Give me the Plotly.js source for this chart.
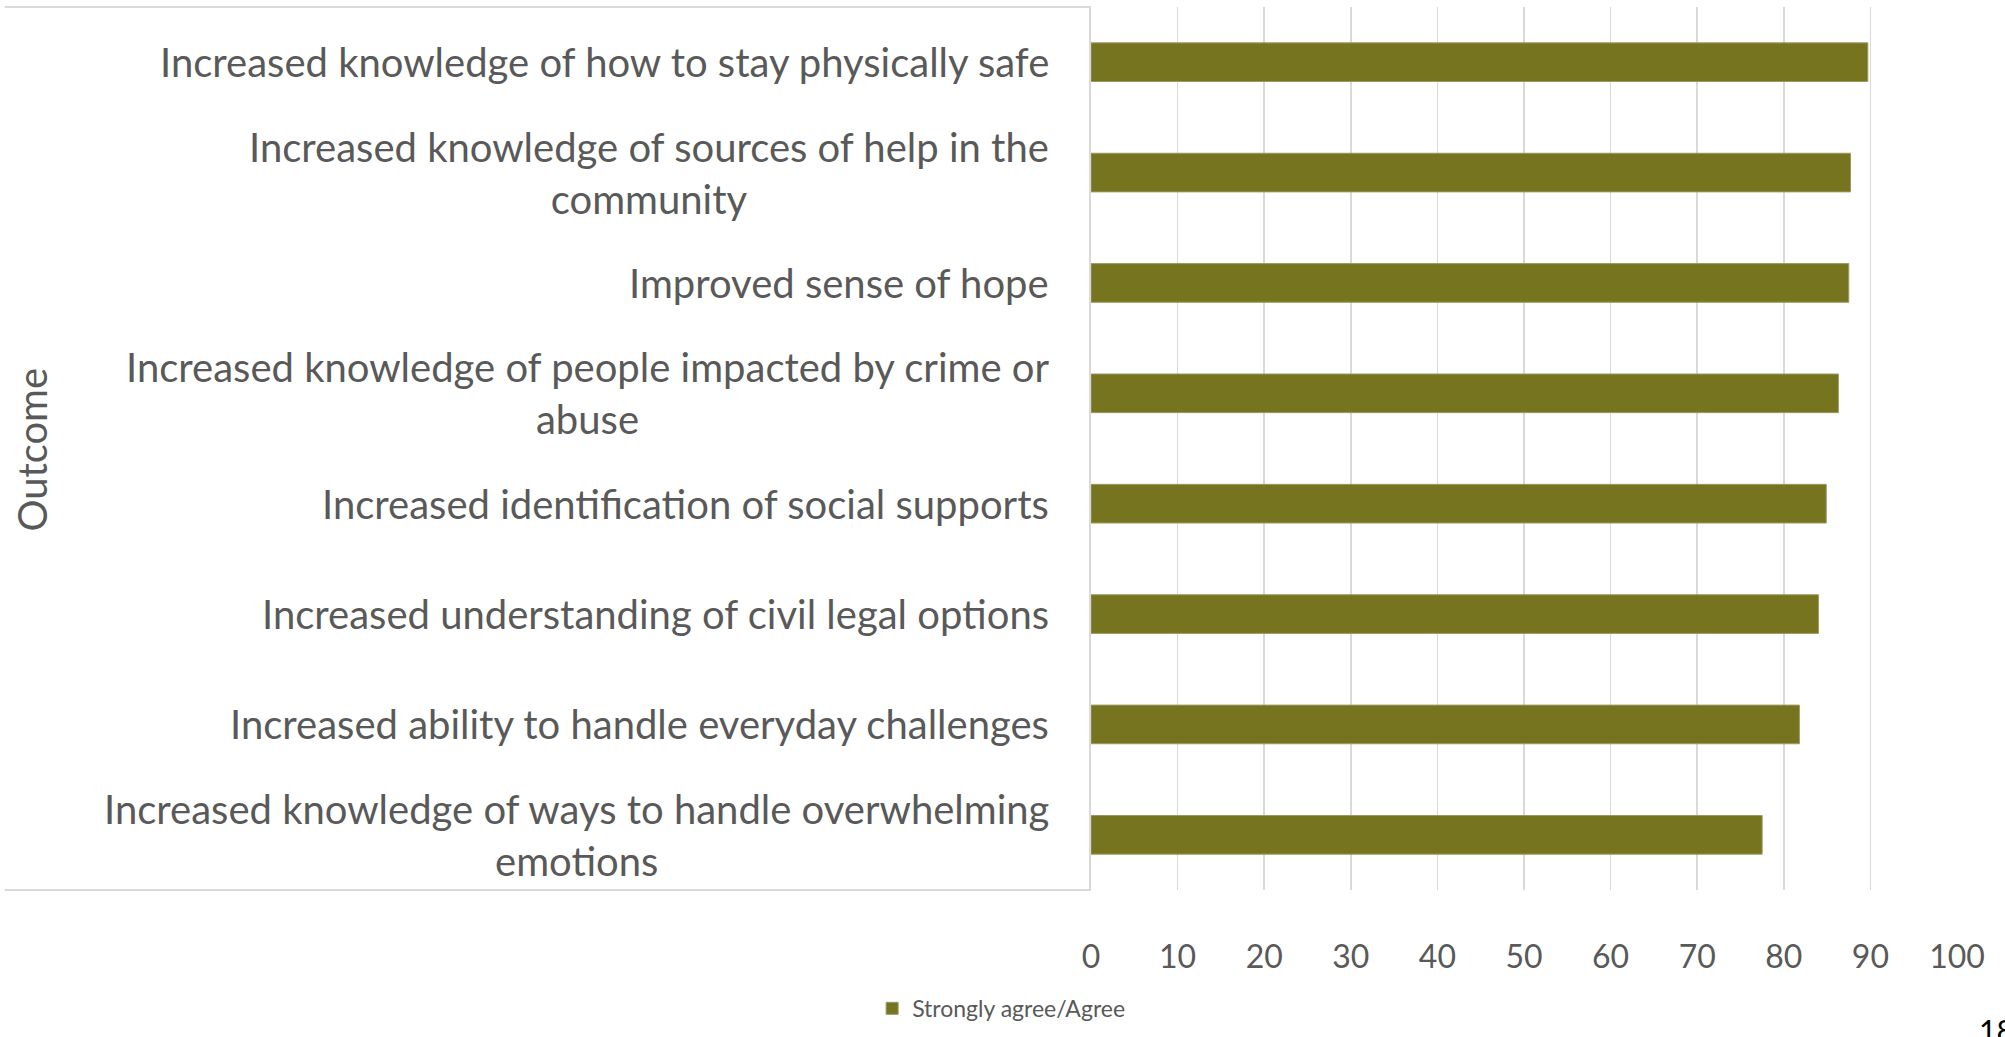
<!DOCTYPE html>
<html>
<head>
<meta charset="utf-8">
<script src="https://cdn.plot.ly/plotly-3.0.1.min.js"></script>
<style>
html,body{margin:0;padding:0;background:#fff;}
#chart{width:2005px;height:1037px;}
</style>
</head>
<body>
<div id="chart"></div>
<script>
// Categories, top to bottom
const categories = [
  "Increased knowledge of how to stay physically safe",
  "Increased knowledge of sources of help in the<br>community",
  "Improved sense of hope",
  "Increased knowledge of people impacted by crime or<br>abuse",
  "Increased identification of social supports",
  "Increased understanding of civil legal options",
  "Increased ability to handle everyday challenges",
  "Increased knowledge of ways to handle overwhelming<br>emotions"
];
const categoryKeys = ["c1","c2","c3","c4","c5","c6","c7","c8"];
const agreeValues = [89.7, 87.7, 87.5, 86.3, 84.9, 84.0, 81.8, 77.5];
const seriesName = "Strongly agree/Agree";
const xTickValues = [0,10,20,30,40,50,60,70,80,90,100];
const yAxisTitle = "Outcome";
const pageNumber = "18";

const W = 2005, H = 1037;
const mL = 1091, mR = 47.5, mT = 7, mB = 135;
const plotW = W - mL - mR;
const plotH = H - mT - mB;
const px2paperX = p => (p - mL) / plotW;
const px2paperY = p => (H - mB - p) / plotH;

const FONT = "Lato, 'Open Sans', sans-serif";
const GREY = "#595959";
const OLIVE = "#76741e";

const trace = {
  type: "bar",
  orientation: "h",
  x: agreeValues,
  y: categoryKeys,
  name: seriesName,
  width: 0.35,
  marker: {color: OLIVE, line: {color: "#9a9860", width: 1}},
  hoverinfo: "x+y"
};

const annotations = categories.map((c, i) => ({
  text: c,
  xref: "paper", x: 0, xshift: -40, xanchor: "right",
  yref: "y", y: categoryKeys[i], yanchor: "middle",
  align: "center",
  showarrow: false,
  font: {family: FONT, size: 40, color: GREY}
}));
annotations.push({
  text: pageNumber,
  xref: "paper", yref: "paper",
  x: px2paperX(1978), y: px2paperY(1024),
  xanchor: "left", yanchor: "top",
  showarrow: false,
  font: {family: FONT, size: 30, color: "#000"}
});

const layout = {
  width: W, height: H,
  margin: {l: mL, r: mR, t: mT, b: mB, pad: 0},
  paper_bgcolor: "#fff",
  plot_bgcolor: "#fff",
  showlegend: true,
  legend: {
    orientation: "h",
    x: px2paperX(872), xanchor: "left",
    y: px2paperY(1022), yanchor: "middle",
    font: {family: FONT, size: 23, color: GREY},
    bgcolor: "rgba(0,0,0,0)"
  },
  xaxis: {
    range: [0, 100],
    tickvals: xTickValues,
    ticktext: xTickValues.map(String),
    showgrid: true,
    gridcolor: "#d9d9d9",
    gridwidth: 1.5,
    zeroline: false,
    showline: false,
    ticks: "",
    ticklabelstandoff: 45,
    tickfont: {family: FONT, size: 32, color: GREY},
    fixedrange: true
  },
  yaxis: {
    type: "category",
    categoryorder: "array",
    categoryarray: categoryKeys,
    autorange: "reversed",
    showticklabels: false,
    showgrid: false,
    zeroline: false,
    showline: true,
    linecolor: "#d9d9d9",
    linewidth: 2,
    ticks: "",
    title: {text: ""},
    fixedrange: true
  },
  shapes: [
    {type: "line", xref: "paper", yref: "paper", x0: px2paperX(4), x1: 0, y0: 1, y1: 1,
     line: {color: "#d9d9d9", width: 2}},
    {type: "line", xref: "paper", yref: "paper", x0: px2paperX(4), x1: 0, y0: 0, y1: 0,
     line: {color: "#d9d9d9", width: 2}}
  ],
  annotations: annotations.concat([{
    text: yAxisTitle,
    xref: "paper", yref: "paper",
    x: px2paperX(31), y: px2paperY(456),
    xanchor: "center", yanchor: "middle",
    textangle: -90,
    showarrow: false,
    font: {family: FONT, size: 40, color: GREY}
  }])
};

Plotly.newPlot("chart", [trace], layout, {displayModeBar: false, staticPlot: true});
</script>
</body>
</html>
